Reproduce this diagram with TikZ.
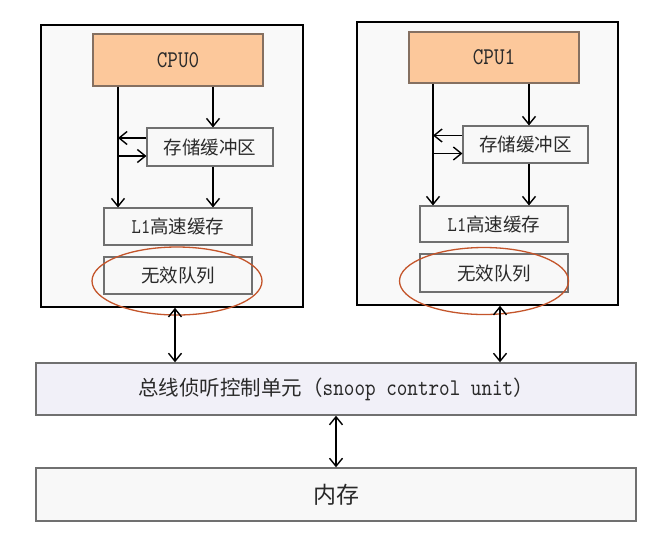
\documentclass[tikz,border=0pt]{standalone}
\usepackage{fontspec}
\setmainfont{Liberation Serif}
\newfontfamily\latin[FakeStretch=0.84]{lmmono10-regular.otf}
\newfontfamily\cjk{Noto Sans CJK SC}
\usetikzlibrary{arrows.meta,shapes.geometric}
\definecolor{outerfill}{HTML}{F9F9F9}
\definecolor{cpufill}{HTML}{FCC89B}
\definecolor{cpuedge}{HTML}{857061}
\definecolor{boxfill}{HTML}{F8F8F8}
\definecolor{boxedge}{HTML}{707070}
\definecolor{snoopfill}{HTML}{F1F0F8}
\definecolor{ringcol}{HTML}{C4552B}
\definecolor{txt}{HTML}{2A2A2A}
\tikzset{
  myarr/.tip={Straight Barb[length=8pt,width=13pt,line width=1.4pt]},
  outerbox/.style={draw=black, line width=1.6pt, fill=outerfill, inner sep=0pt},
  cpubox/.style={draw=cpuedge, line width=1.1pt, fill=cpufill, inner sep=0pt, text=txt, font=\latin\fontsize{24}{27}\selectfont},
  unitbox/.style={draw=boxedge, line width=1.1pt, fill=boxfill, inner sep=0pt, text=txt, font=\fontsize{18.5}{21}\selectfont},
  busbox/.style={draw=boxedge, line width=1.4pt, fill=snoopfill, inner sep=0pt, text=txt},
  membox/.style={draw=boxedge, line width=1.4pt, fill=boxfill, inner sep=0pt, text=txt, font=\fontsize{23}{26}\selectfont},
  ring/.style={ellipse, draw=ringcol, line width=1.3pt, inner sep=0pt},
  arr/.style={-myarr, line width=1.6pt, black},
  darr/.style={myarr-myarr, line width=1.6pt, black}
}
\begin{document}
\begin{tikzpicture}[x=1pt,y=-1pt]
\useasboundingbox (0,0) rectangle (660,555);
\fill[white] (0,0) rectangle (660,555);

% outer boxes
\node[outerbox, minimum width=262pt, minimum height=282pt] (box0) at (172,166) {};
\node[outerbox, minimum width=261pt, minimum height=283pt] (box1) at (487.5,163.5) {};

% CPU 0 column
\node[cpubox, minimum width=170pt, minimum height=52pt] (cpu0) at (178,60) {CPU0};
\node[unitbox, minimum width=126pt, minimum height=38pt] (sb0) at (210,147) {\cjk 存储缓冲区};
\node[unitbox, minimum width=148pt, minimum height=37pt] (l10) at (178,226.5) {{\latin\fontsize{21}{24}\selectfont L1}{\cjk 高速缓存}};
\node[unitbox, minimum width=148pt, minimum height=37pt] (iq0) at (178,275.5) {\cjk 无效队列};

% CPU 1 column
\node[cpubox, minimum width=170pt, minimum height=51pt] (cpu1) at (494,57.5) {CPU1};
\node[unitbox, minimum width=125pt, minimum height=37pt] (sb1) at (525.5,144.5) {\cjk 存储缓冲区};
\node[unitbox, minimum width=148pt, minimum height=36pt] (l11) at (494,224) {{\latin\fontsize{21}{24}\selectfont L1}{\cjk 高速缓存}};
\node[unitbox, minimum width=148pt, minimum height=38pt] (iq1) at (494,273) {\cjk 无效队列};

% bus and memory
\node[busbox, minimum width=600pt, minimum height=52pt] (snoop) at (336,389)
  {{\cjk\fontsize{20.5}{23}\selectfont 总线侦听控制单元（}{\latin\fontsize{24}{27}\selectfont snoop control unit}{\cjk\fontsize{20.5}{23}\selectfont ）}};
\node[membox, minimum width=600pt, minimum height=53pt] (mem) at (336,494.5) {\cjk 内存};

% helper coordinates
\coordinate (a0) at (118,0);
\coordinate (b0) at (213,0);
\coordinate (a1) at (433,0);
\coordinate (b1) at (529,0);
\coordinate (c0) at (175,0);
\coordinate (c1) at (500,0);
\coordinate (s0u) at ([yshift=9pt]sb0.west);
\coordinate (s0d) at ([yshift=-9pt]sb0.west);
\coordinate (s1u) at ([yshift=9pt]sb1.west);
\coordinate (s1d) at ([yshift=-9pt]sb1.west);

% connectors column 0
\draw[arr] (cpu0.south -| a0) -- (l10.north -| a0);
\draw[arr] (cpu0.south -| b0) -- (sb0.north -| b0);
\draw[arr] (sb0.south -| b0) -- (l10.north -| b0);
\draw[arr] (s0u) -- (s0u -| a0);
\draw[arr] (s0d -| a0) -- (s0d);

% connectors column 1
\draw[arr] (cpu1.south -| a1) -- (l11.north -| a1);
\draw[arr] (cpu1.south -| b1) -- (sb1.north -| b1);
\draw[arr] (sb1.south -| b1) -- (l11.north -| b1);
\draw[arr] (s1u) -- (s1u -| a1);
\draw[arr] (s1d -| a1) -- (s1d);

% highlight rings
\node[ring, minimum width=170pt, minimum height=68pt] (e0) at (177,281) {};
\node[ring, minimum width=169pt, minimum height=67pt] (e1) at (484,281) {};

% bus connectors
\draw[darr] (box0.south -| c0) -- (snoop.north -| c0);
\draw[darr] (box1.south -| c1) -- (snoop.north -| c1);
\draw[darr] (snoop.south) -- (mem.north);
\end{tikzpicture}
\end{document}
